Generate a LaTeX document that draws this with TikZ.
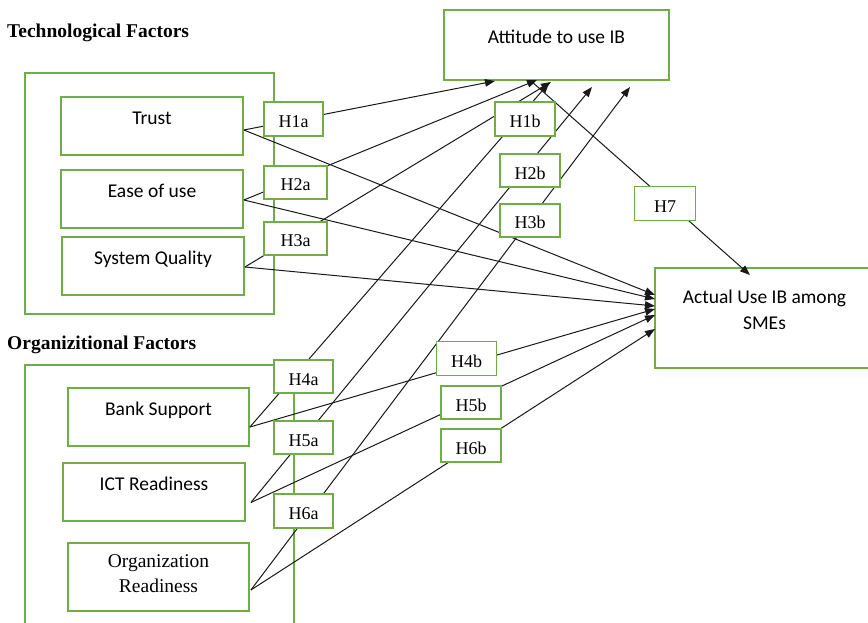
\documentclass[tikz,border=0pt]{standalone}
\usepackage{fontspec}
\setmainfont{Liberation Serif}
\newfontfamily\calib{Carlito}
\usetikzlibrary{arrows.meta}
\definecolor{boxgreen}{RGB}{112,173,71}
\begin{document}
\begin{tikzpicture}[x=1pt,y=-1pt,
  grp/.style={draw=boxgreen,line width=1.8pt,inner sep=0pt},
  vbox/.style={draw=boxgreen,line width=1.8pt,inner sep=0pt,
    font=\calib\fontsize{19.5}{24}\selectfont},
  single/.style={vbox,text height=13pt,text depth=16pt},
  hyp/.style={draw=boxgreen,line width=1.8pt,fill=white,inner sep=0pt,
    font=\fontsize{18}{22}\selectfont,text height=17pt,text depth=0pt},
  grouptitle/.style={inner sep=0pt,anchor=base west,
    font=\bfseries\fontsize{19.5}{24}\selectfont},
  link/.style={line width=1pt,draw=black!90},
  arr/.style={link,-{Triangle[length=10pt,width=7.5pt]}}
]
\useasboundingbox (0,0) rectangle (868,623);
\fill[white] (0,0) rectangle (868,623);
\clip (0,0) rectangle (868,623);

% group frames and headings
\node[grp,minimum width=249pt,minimum height=241pt] (techgrp) at (149.5,193.5) {};
\node[grp,minimum width=269pt,minimum height=280pt] (orggrp) at (159.5,505) {};
\node[grouptitle] (techttl) at (7,38) {Technological Factors};
\node[grouptitle] (orgttl) at (7,349) {Organizitional Factors};

% constructs
\node[single,minimum width=182pt,minimum height=58pt] (trust) at (152,126) {Trust};
\node[single,minimum width=182pt,minimum height=58pt] (ease) at (152,199) {Ease of use};
\node[single,minimum width=182pt,minimum height=58pt] (sysq) at (153,266) {System Quality};
\node[single,minimum width=181pt,minimum height=58pt] (bank) at (158.5,417) {Bank Support};
\node[single,minimum width=182pt,minimum height=58pt] (ict) at (154,492) {ICT Readiness};
\node[vbox,align=center,font=\fontsize{19.5}{25}\selectfont,
  minimum width=181pt,minimum height=68pt] (orgr) at (158.5,577)
  {Organization\\\raisebox{0pt}[\height][6pt]{Readiness}};
\node[single,minimum width=225pt,minimum height=70pt] (att) at (556.5,45) {Attitude to use IB};
\node[vbox,align=center,font=\calib\fontsize{19.5}{26}\selectfont,
  minimum width=219pt,minimum height=100pt] (actual) at (764.5,318)
  {Actual Use IB among\\\raisebox{0pt}[\height][16pt]{SMEs}};

% line ends
\coordinate (s-trust) at ([yshift=-4pt]trust.east);
\coordinate (s-ease) at ([yshift=-1pt]ease.east);
\coordinate (s-sysq) at ([yshift=-1pt]sysq.east);
\coordinate (s-bank) at ([yshift=-10pt]bank.east);
\coordinate (s-ict) at ([xshift=5pt,yshift=-10.5pt]ict.east);
\coordinate (s-orgr) at ([xshift=1pt,yshift=-13pt]orgr.east);
\coordinate (a1) at (495,81);
\coordinate (a2) at (537,80);
\coordinate (a3) at (551,82);
\coordinate (a4) at (549,83);
\coordinate (a5) at (592,87);
\coordinate (a6) at (630,87);
\coordinate (b1) at (655,295);
\coordinate (b2) at (655,299);
\coordinate (b3) at (655,306);
\coordinate (b4) at (655,309);
\coordinate (b5) at (655,315);
\coordinate (b6) at (655,329);
\coordinate (h7s) at (531,81);
\coordinate (h7t) at (750,275);

% paths to attitude
\draw[arr] (s-trust) -- (a1);
\draw[arr] (s-ease) -- (a2);
\draw[arr] (s-sysq) -- (a3);
\draw[arr] (s-bank) -- (a4);
\draw[arr] (s-ict) -- (a5);
\draw[arr] (s-orgr) -- (a6);
% paths to actual use
\draw[arr] (s-trust) -- (b1);
\draw[arr] (s-ease) -- (b2);
\draw[arr] (s-sysq) -- (b3);
\draw[arr] (s-bank) -- (b4);
\draw[arr] (s-ict) -- (b5);
\draw[arr] (s-orgr) -- (b6);
\draw[arr] (h7s) -- (h7t);

% hypothesis labels
\node[hyp,minimum width=59pt,minimum height=34pt] (h1a) at (293.5,119) {H1a};
\node[hyp,minimum width=63pt,minimum height=33pt] (h2a) at (295.5,182.5) {H2a};
\node[hyp,minimum width=63pt,minimum height=33pt] (h3a) at (295.5,238.5) {H3a};
\node[hyp,minimum width=60pt,minimum height=34pt] (h1b) at (525,119) {H1b};
\node[hyp,minimum width=60pt,minimum height=33pt] (h2b) at (530,170.5) {H2b};
\node[hyp,minimum width=60pt,minimum height=33pt] (h3b) at (530,220.5) {H3b};
\node[hyp,minimum width=61pt,minimum height=34pt] (h7) at (665,203.5) {H7};
\node[hyp,minimum width=59pt,minimum height=33pt] (h4a) at (303.5,376.5) {H4a};
\node[hyp,minimum width=59pt,minimum height=33pt] (h5a) at (303.5,437.5) {H5a};
\node[hyp,minimum width=59pt,minimum height=34pt] (h6a) at (303.5,511) {H6a};
\node[hyp,minimum width=60pt,minimum height=34pt] (h4b) at (466.5,358.5) {H4b};
\node[hyp,minimum width=60pt,minimum height=33pt] (h5b) at (471,402.5) {H5b};
\node[hyp,minimum width=60pt,minimum height=33pt] (h6b) at (471,445.5) {H6b};
\end{tikzpicture}
\end{document}
